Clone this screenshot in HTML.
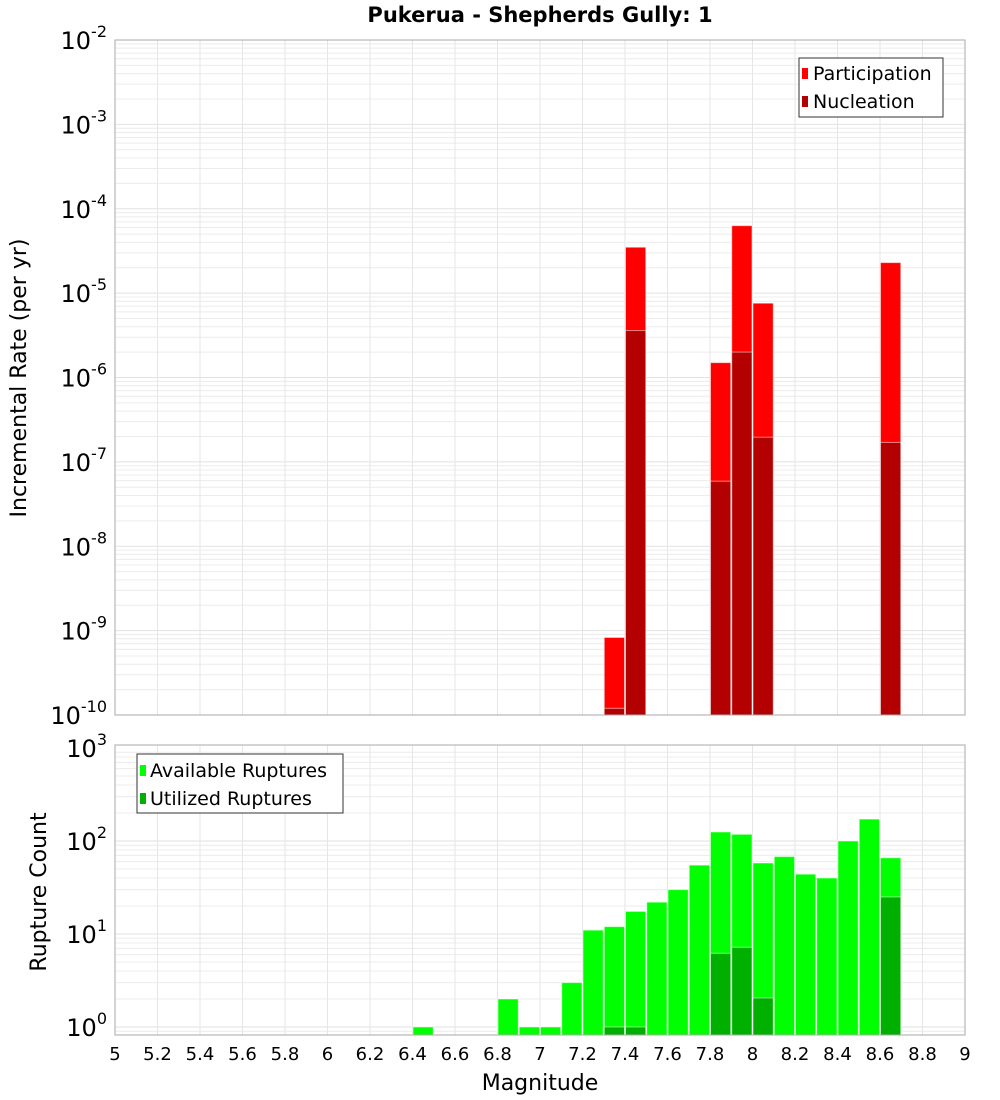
<!DOCTYPE html>
<html><head><meta charset="utf-8"><style>
body{margin:0;background:#fff;}
svg{display:block;font-family:"DejaVu Sans","Liberation Sans",sans-serif;}
</style></head><body>
<svg id="c" width="1000" height="1100" xmlns="http://www.w3.org/2000/svg"></svg>
<script>
const magBins=[7.35,7.45,7.85,7.95,8.05,8.65];
const participation=[8.3e-10,3.5e-5,1.5e-6,6.3e-5,7.6e-6,2.3e-5];
const nucleation=[1.2e-10,3.6e-6,5.9e-8,2.0e-6,1.96e-7,1.7e-7];
const countBins=[6.45,6.85,6.95,7.05,7.15,7.25,7.35,7.45,7.55,7.65,7.75,7.85,7.95,8.05,8.15,8.25,8.35,8.45,8.55,8.65];
const available=[1,2,1,1,3,11,12,17.5,22,30,55,125,118,58,68,44,40,100,172,66];
const utilized=[0,0,0,0,0,0,1,1,0,0,0,6.2,7.2,2.05,0,0,0,0,0,25];
const xTicks=[5,5.2,5.4,5.6,5.8,6,6.2,6.4,6.6,6.8,7,7.2,7.4,7.6,7.8,8,8.2,8.4,8.6,8.8,9];
const topExp=[-2,-3,-4,-5,-6,-7,-8,-9,-10];
const botExp=[3,2,1,0];

const NS='http://www.w3.org/2000/svg';
const svg=document.getElementById('c');
function el(t,a,p){const e=document.createElementNS(NS,t);for(const k in a)e.setAttribute(k,a[k]);(p||svg).appendChild(e);return e;}
const L=115,R=965;
const x=m=>L+(m-5)*(R-L)/4;
const T0=40,T1=715; const yT=v=>T0+(-2-Math.log10(v))*(T1-T0)/8;
const B0=745,B1=1035; const yB=v=>1027-93*Math.log10(v);

function grid(top,bot,yf,emax,emin,g){
  for(let e=emin;e<emax;e++)for(let k=1;k<10;k++){const yy=yf(k*Math.pow(10,e));if(yy<top||yy>bot)continue;
    const l=el('line',{x1:L,x2:R,y1:yy,y2:yy,stroke:k==1?'#e2e2e2':'#ececec','stroke-width':1},g);
    }
  for(const t of xTicks){const l=el('line',{x1:x(t),x2:x(t),y1:top,y2:bot,stroke:'#e6e6e6'},g);
    }
}
const bw=(R-L)/40;
function bar(m,v,yf,base,fill,g,name){const yy=yf(v);const r=el('rect',{x:x(m)-bw/2+0.5,y:yy,width:bw-1,height:base-yy,fill:fill,stroke:'#ffffff','stroke-opacity':0.5,'stroke-width':1},g);
  }

// Title
const ti=el('text',{x:540,y:22,'text-anchor':'middle','font-size':21,'font-weight':'bold'});ti.textContent='Pukerua - Shepherds Gully: 1';


// Top plot
const gt=el('g',{});
grid(T0,T1,yT,-2,-10,gt);
magBins.forEach((m,i)=>{bar(m,participation[i],yT,T1,'#ff0000',gt,'participation-bar');});
magBins.forEach((m,i)=>{bar(m,nucleation[i],yT,T1,'#b30000',gt,'nucleation-bar');});
el('rect',{x:L,y:T0,width:R-L,height:T1-T0,fill:'none',stroke:'#aaaaaa'},gt);
topExp.forEach(e=>{const t=el('text',{x:107,y:yT(Math.pow(10,e))+9,'text-anchor':'end','font-size':24},gt);
  t.innerHTML='10<tspan dy="-12" font-size="16">'+e+'</tspan>';});
const yt=el('text',{x:0,y:0,transform:'translate(26,378) rotate(-90)','text-anchor':'middle','font-size':22},gt);yt.textContent='Incremental Rate (per yr)';

const lg=el('g',{},gt);
el('rect',{x:799,y:58,width:144,height:59,fill:'#fff',stroke:'#333'},lg);
el('rect',{x:802,y:68,width:6,height:11,fill:'#ff0000'},lg);
el('rect',{x:802,y:96,width:6,height:11,fill:'#b30000'},lg);
let t1=el('text',{x:813,y:80,'font-size':19},lg);t1.textContent='Participation';
let t2=el('text',{x:813,y:108,'font-size':19},lg);t2.textContent='Nucleation';

// Bottom plot
const gb=el('g',{});
grid(B0,B1,yB,3,-1,gb);
countBins.forEach((m,i)=>{if(available[i]>0)bar(m,available[i],yB,B1,'#00ff00',gb,'available-bar');});
countBins.forEach((m,i)=>{if(utilized[i]>0)bar(m,utilized[i],yB,B1,'#00b000',gb,'utilized-bar');});
el('rect',{x:L,y:B0,width:R-L,height:B1-B0,fill:'none',stroke:'#aaaaaa'},gb);
botExp.forEach(e=>{const t=el('text',{x:107,y:yB(Math.pow(10,e))+9,'text-anchor':'end','font-size':24},gb);
  t.innerHTML='10<tspan dy="-12" font-size="16">'+e+'</tspan>';});
const yb=el('text',{x:0,y:0,transform:'translate(46,892) rotate(-90)','text-anchor':'middle','font-size':22},gb);yb.textContent='Rupture Count';

const lb=el('g',{},gb);
el('rect',{x:137,y:754,width:206,height:59,fill:'#fff',stroke:'#333'},lb);
el('rect',{x:140,y:765,width:6,height:11,fill:'#00ff00'},lb);
el('rect',{x:140,y:793,width:6,height:11,fill:'#00b000'},lb);
let t3=el('text',{x:150,y:777,'font-size':19},lb);t3.textContent='Available Ruptures';
let t4=el('text',{x:150,y:805,'font-size':19},lb);t4.textContent='Utilized Ruptures';

xTicks.forEach(t=>{const e=el('text',{x:x(t),y:1060,'text-anchor':'middle','font-size':18});e.textContent=String(t);
  });
const xt=el('text',{x:540,y:1090,'text-anchor':'middle','font-size':22});xt.textContent='Magnitude';

</script>
</body></html>
